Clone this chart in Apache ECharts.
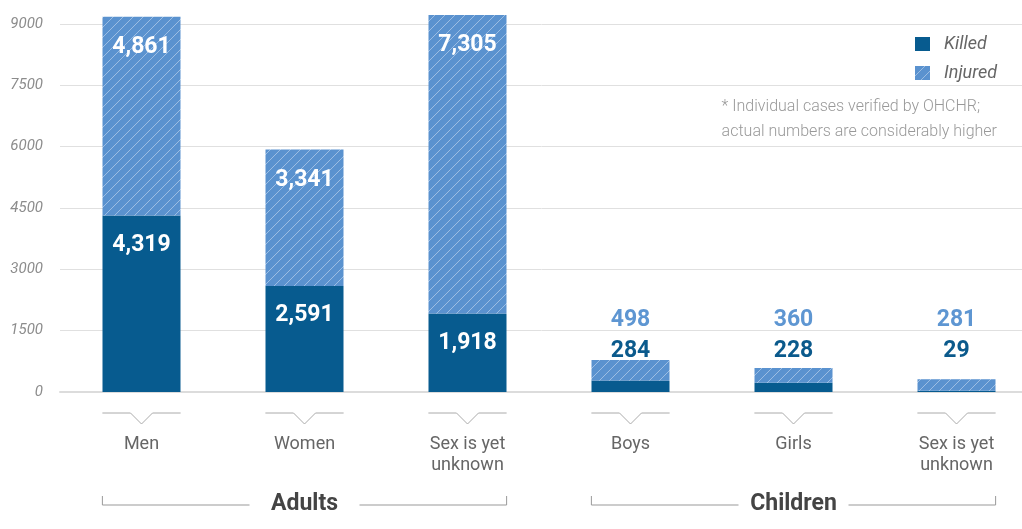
<!DOCTYPE html>
<html>
<head>
<meta charset="utf-8">
<script src="https://cdn.jsdelivr.net/npm/echarts@6/dist/echarts.min.js"></script>
<style>
  html, body { margin: 0; padding: 0; background: #fff; }
  #chart { width: 1022px; height: 529px; }
</style>
</head>
<body>
<div id="chart"></div>
<script>
// data
var categories = ["Men", "Women", "Sex is yet\nunknown", "Boys", "Girls", "Sex is yet\nunknown"];
var killed = [4319, 2591, 1918, 284, 228, 29];
var injured = [4861, 3341, 7305, 498, 360, 281];
var groupNames = ["Adults", "Children"];
var groupFirst = [0, 3];
var groupLast = [2, 5];
var yTicks = [0, 1500, 3000, 4500, 6000, 7500, 9000];

var DARK = "#075b8f";
var LIGHT = "#5a92cf";
var FONT = "Roboto, 'Noto Sans', sans-serif";

// hatch pattern for injured
function makeHatch() {
  var s = 10;
  var c = document.createElement("canvas");
  c.width = s;
  c.height = s;
  var ctx = c.getContext("2d");
  ctx.fillStyle = LIGHT;
  ctx.fillRect(0, 0, s, s);
  ctx.strokeStyle = "rgba(255,255,255,0.4)";
  ctx.lineWidth = 1;
  ctx.beginPath();
  ctx.moveTo(0, s); ctx.lineTo(s, 0);
  ctx.moveTo(-s / 2, s / 2); ctx.lineTo(s / 2, -s / 2);
  ctx.moveTo(s / 2, s * 1.5); ctx.lineTo(s * 1.5, s / 2);
  ctx.stroke();
  return c;
}
var hatch = { image: makeHatch(), repeat: "repeat" };

function fmt(v) {
  return v.toLocaleString("en-US");
}
function isSmall(i) {
  return killed[i] + injured[i] < 1500;
}

var chart = echarts.init(document.getElementById("chart"));

chart.setOption({
  animation: false,
  textStyle: { fontFamily: FONT },
  grid: { left: 60, top: 24, width: 978, height: 368, outerBoundsMode: "none", containLabel: false },
  legend: {
    data: ["Killed", "Injured"],
    orient: "vertical",
    left: 910,
    top: 30,
    itemWidth: 15,
    itemHeight: 14,
    itemGap: 11,
    icon: "rect",
    textStyle: { fontSize: 18, fontStyle: "italic", color: "#666", padding: [0, 0, 0, 9] }
  },
  graphic: [
    {
      type: "text",
      right: 25,
      top: 94,
      style: {
        text: "* Individual cases verified by OHCHR;\nactual numbers are considerably higher",
        align: "right",
        fontSize: 16,
        lineHeight: 25,
        fontWeight: 300,
        fill: "#999",
        fontFamily: FONT
      }
    }
  ],
  xAxis: {
    type: "category",
    data: categories,
    axisTick: { show: false },
    axisLine: { lineStyle: { color: "#dcdcdc", width: 2 } },
    axisLabel: { margin: 42, fontSize: 18, lineHeight: 21, color: "#666" }
  },
  yAxis: {
    type: "value",
    min: yTicks[0],
    max: yTicks[yTicks.length - 1],
    interval: yTicks[1] - yTicks[0],
    axisLine: { show: false },
    axisTick: { show: false },
    splitLine: { lineStyle: { color: "#e0e0e0" } },
    axisLabel: {
      margin: 17, fontSize: 15, fontStyle: "italic", color: "#8c8c8c",
      formatter: function (v) { return String(v); }
    }
  },
  series: [
    {
      name: "Killed",
      type: "bar",
      stack: "total",
      barWidth: 78,
      clip: false,
      itemStyle: { color: DARK },
      label: {
        show: true,
        position: "insideTop",
        distance: 18,
        color: "#fff",
        fontSize: 23,
        fontWeight: "bold",
        formatter: function (p) { return isSmall(p.dataIndex) ? "" : fmt(p.value); }
      },
      data: killed
    },
    {
      name: "Injured",
      type: "bar",
      stack: "total",
      barWidth: 78,
      clip: false,
      itemStyle: { color: hatch },
      label: {
        show: true,
        position: "insideTop",
        distance: 19,
        color: "#fff",
        fontSize: 23,
        fontWeight: "bold",
        formatter: function (p) { return isSmall(p.dataIndex) ? "" : fmt(p.value); }
      },
      data: injured
    },
    {
      // labels above the small children bars
      name: "smallLabels",
      type: "custom",
      silent: true,
      clip: false,
      data: categories.map(function (c, i) { return [i, killed[i], injured[i]]; }),
      renderItem: function (params, api) {
        var i = api.value(0);
        if (!isSmall(i)) return null;
        var p = api.coord([i, 0]);
        return {
          type: "group",
          children: [
            { type: "text", style: { x: p[0], y: p[1] - 72, text: fmt(api.value(2)), align: "center", verticalAlign: "middle", fontSize: 23, fontWeight: "bold", fill: "#5e96d2", fontFamily: FONT } },
            { type: "text", style: { x: p[0], y: p[1] - 41, text: fmt(api.value(1)), align: "center", verticalAlign: "middle", fontSize: 23, fontWeight: "bold", fill: "#0b5a8c", fontFamily: FONT } }
          ]
        };
      }
    },
    {
      // chevron ticks under each category
      name: "chevrons",
      type: "custom",
      silent: true,
      clip: false,
      data: categories.map(function (c, i) { return [i, 0]; }),
      renderItem: function (params, api) {
        var p = api.coord([api.value(0), 0]);
        var half = api.size([1, 0])[0] * 0.24;
        var y = p[1] + 21;
        return {
          type: "polyline",
          shape: { points: [[p[0] - half, y], [p[0] - 11, y], [p[0], y + 11], [p[0] + 11, y], [p[0] + half, y]] },
          style: { stroke: "#aaa", lineWidth: 1, fill: null }
        };
      }
    },
    {
      // group brackets
      name: "groups",
      type: "custom",
      silent: true,
      clip: false,
      data: groupNames.map(function (g, k) { return [groupFirst[k], groupLast[k], g]; }),
      renderItem: function (params, api) {
        var half = api.size([1, 0])[0] * 0.24;
        var a = api.coord([api.value(0), 0]);
        var b = api.coord([api.value(1), 0]);
        var xl = a[0] - half, xr = b[0] + half;
        var mid = (xl + xr) / 2;
        var y = a[1] + 113;
        var name = groupNames[params.dataIndex];
        return {
          type: "group",
          children: [
            { type: "polyline", shape: { points: [[xl, y - 9], [xl, y], [mid - 55, y]] }, style: { stroke: "#999", lineWidth: 1, fill: null } },
            { type: "polyline", shape: { points: [[mid + 55, y], [xr, y], [xr, y - 9]] }, style: { stroke: "#999", lineWidth: 1, fill: null } },
            { type: "text", style: { x: mid, y: y - 1, text: name, align: "center", verticalAlign: "middle", fontSize: 23, fontWeight: "bold", fill: "#444", fontFamily: FONT } }
          ]
        };
      }
    }
  ]
});
</script>
</body>
</html>
